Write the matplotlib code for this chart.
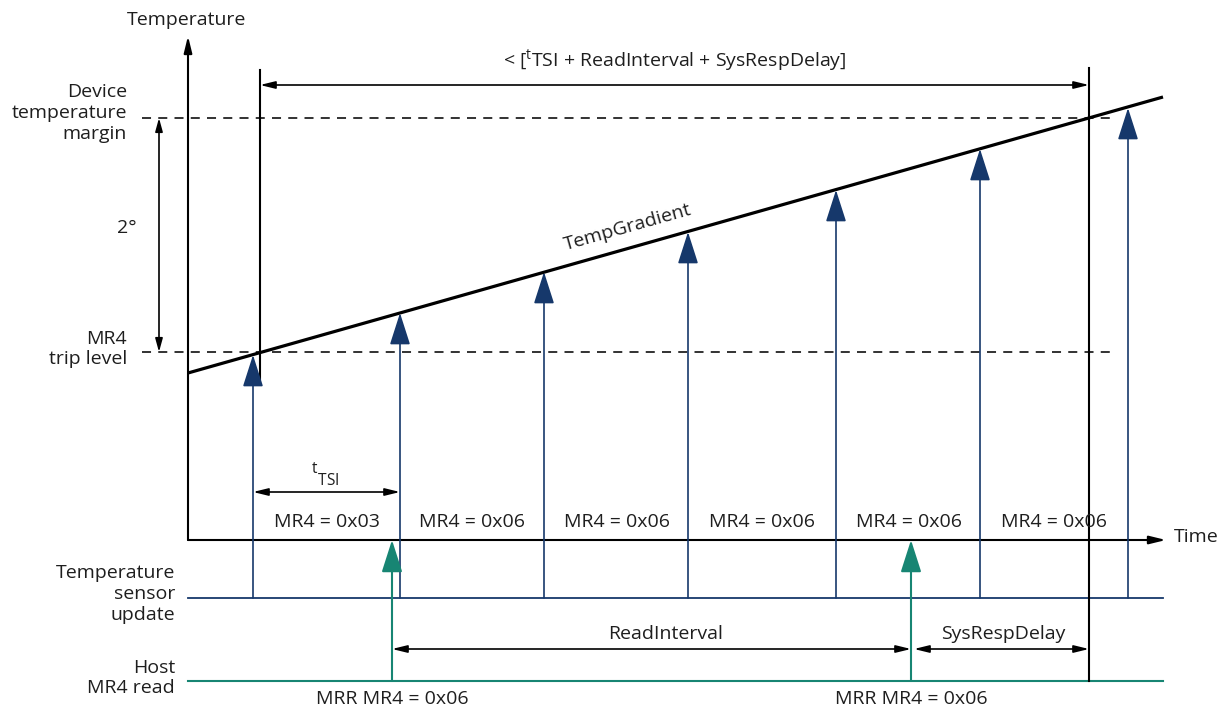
import matplotlib
matplotlib.use("Agg")
import matplotlib.pyplot as plt
from matplotlib.patches import ArrowStyle

plt.rcParams['font.family'] = ['Open Sans', 'DejaVu Sans']

# ---- data (diagram units: time -> x pixels, temperature -> y pixels, inverted) ----
sensor_times = [253, 400, 544, 688, 836, 980, 1128]
sensor_temps = [355, 313, 272, 232, 190, 149, 108]
read_times = [392, 911]
read_labels = ["MRR MR4 = 0x06", "MRR MR4 = 0x06"]
grad_times = [188, 1163]
grad_temps = [373, 97]
mr4_centers = [327, 472, 617, 762, 909, 1054]
mr4_labels = ["MR4 = 0x03", "MR4 = 0x06", "MR4 = 0x06", "MR4 = 0x06", "MR4 = 0x06", "MR4 = 0x06"]
margin_temp = 118
trip_temp = 352
window_start, window_end = 260, 1089

NAVY = "#16386b"
TEAL = "#178573"
TXT = "#1e1e1e"

fig = plt.figure(figsize=(12.28, 7.11), dpi=100)
ax = fig.add_axes([0, 0, 1, 1])
ax.set_xlim(0, 1228)
ax.set_ylim(711, 0)
ax.axis("off")

def arrow(x0, y0, x1, y1, color="black", style="-|>", hl=0.8, hw=0.25, ms=10, lw=1.3):
    ax.annotate("", xy=(x1, y1), xytext=(x0, y0),
                arrowprops=dict(arrowstyle=ArrowStyle(style, head_length=hl, head_width=hw),
                                mutation_scale=ms, color=color, lw=lw,
                                shrinkA=0, shrinkB=0))

fs = 14
# axes
arrow(188, 540, 188, 36, hl=0.9, hw=0.22, ms=11, lw=1.5)
arrow(188, 540, 1166, 540, hl=0.9, hw=0.22, ms=11, lw=1.5)
ax.text(187, 20, "Temperature", ha="center", va="center", fontsize=fs, color=TXT)
ax.text(1174, 537, "Time", ha="left", va="center", fontsize=fs, color=TXT)

# dashed levels
ax.plot([142, 1110], [margin_temp, margin_temp], ls=(0, (5, 4)), color="#222", lw=1.3)
ax.plot([142, 1115], [trip_temp, trip_temp], ls=(0, (5, 4)), color="#222", lw=1.3)

# 2 degree arrow
arrow(159, margin_temp, 159, trip_temp, style="<|-|>", hl=0.8, hw=0.22, ms=10, lw=1.2)
ax.text(127, 228, "2°", ha="center", va="center", fontsize=fs, color=TXT)

ax.text(127, 113, "Device\ntemperature\nmargin", ha="right", va="center", fontsize=fs,
        color=TXT, linespacing=1.2)
ax.text(127, 349, "MR4\ntrip level", ha="right", va="center", fontsize=fs,
        color=TXT, linespacing=1.2)
ax.text(175, 594, "Temperature\nsensor\nupdate", ha="right", va="center", fontsize=fs,
        color=TXT, linespacing=1.2)
ax.text(175, 678, "Host\nMR4 read", ha="right", va="center", fontsize=fs,
        color=TXT, linespacing=1.2)

# baselines
ax.plot([188, 1163], [598, 598], color=NAVY, lw=1.3)
ax.plot([188, 1163], [681, 681], color=TEAL, lw=1.5)

# sensor update arrows
for t, tp in zip(sensor_times, sensor_temps):
    arrow(t, 598, t, tp, color=NAVY, hl=1.25, hw=0.4, ms=16, lw=1.2)

# gradient line
ax.plot(grad_times, grad_temps, color="black", lw=2.3, solid_capstyle="butt")
ax.text(628, 227, "TempGradient", ha="center", va="center", fontsize=fs, color=TXT,
        rotation=15.8, rotation_mode="anchor")

# window verticals
ax.plot([window_start, window_start], [70, 382], color="black", lw=1.5)
ax.plot([window_end, window_end], [68, 681], color="black", lw=1.5)
arrow(window_start, 85, window_end, 85, style="<|-|>", hl=0.9, hw=0.22, ms=10, lw=1.2)
ax.text(675, 61, "< [$^{\\mathregular{t}}$TSI + ReadInterval + SysRespDelay]", ha="center",
        va="center", fontsize=fs, color=TXT)

# tTSI
arrow(sensor_times[0], 492, sensor_times[1], 492, style="<|-|>", hl=0.9, hw=0.22, ms=10, lw=1.2)
ax.text(325, 474, "$^{\\mathregular{t}}$$_{\\mathregular{TSI}}$", ha="center", va="center",
        fontsize=fs + 2, color=TXT)

# MR4 labels
for c, lab in zip(mr4_centers, mr4_labels):
    ax.text(c, 522, lab, ha="center", va="center", fontsize=fs, color=TXT)

# host read arrows
for t, lab in zip(read_times, read_labels):
    arrow(t, 681, t, 540, color=TEAL, hl=1.25, hw=0.4, ms=16, lw=1.5)
    ax.text(t, 699, lab, ha="center", va="center", fontsize=fs, color=TXT)

# ReadInterval / SysRespDelay
arrow(read_times[0], 649, read_times[1], 649, style="<|-|>", hl=0.9, hw=0.22, ms=10, lw=1.2)
ax.text(666, 634, "ReadInterval", ha="center", va="center", fontsize=fs, color=TXT)
arrow(read_times[1] + 3, 649, window_end, 649, style="<|-|>", hl=0.9, hw=0.22, ms=10, lw=1.2)
ax.text(1003, 634, "SysRespDelay", ha="center", va="center", fontsize=fs, color=TXT)

fig.savefig("out.png", dpi=100)
